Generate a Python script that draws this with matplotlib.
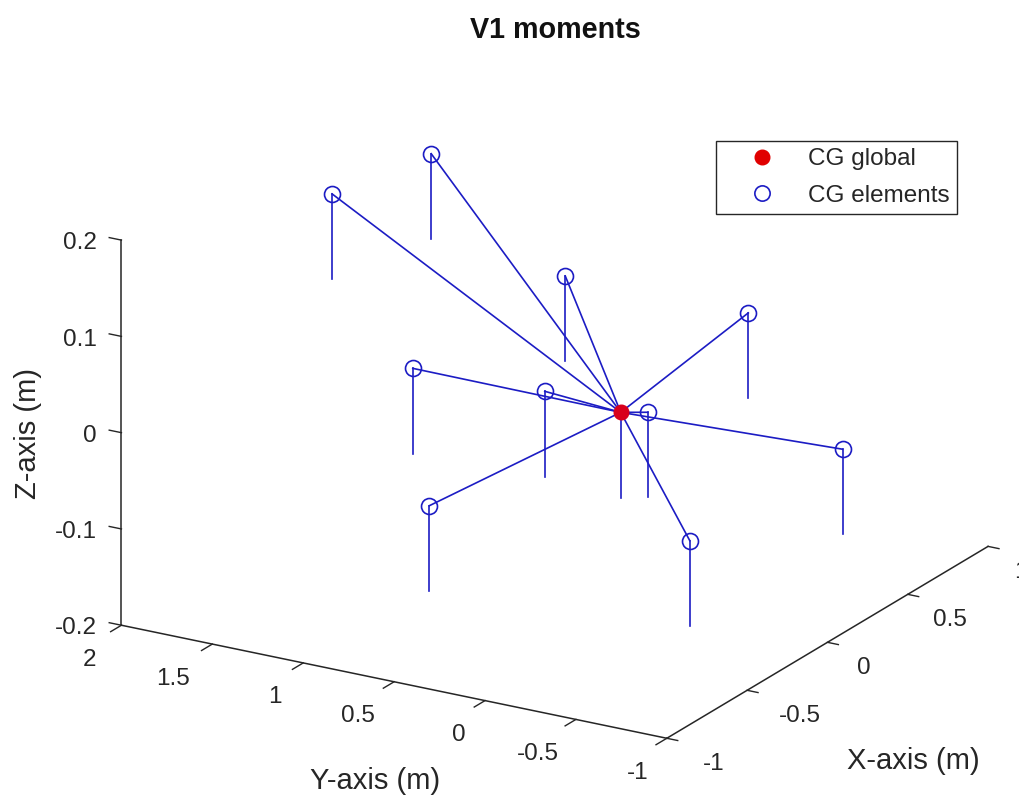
import matplotlib
matplotlib.use("Agg")
import matplotlib.pyplot as plt
from matplotlib.lines import Line2D
from matplotlib.transforms import ScaledTranslation

plt.rcParams['font.family'] = ['Liberation Sans', 'DejaVu Sans']

# CG of the global assembly
cg_x = -0.042
cg_y = 0.10
cg_z = 0.0

# CG of the elements
el_x = [0.068, 0.538, 0.552, -0.035, -0.001, 0.932, 0.103, 0.002, -0.85, -0.923]
el_y = [1.785, 1.655, 0.930, 1.250, 0.554, 0.259, -0.992, -0.01, -0.994, 0.375]
el_z = [0.15, 0.15, 0.05, 0.0, 0.0, 0.0, -0.01, 0.0, -0.01, -0.02]

# moment stems
moment = -0.0885

x_ticks = [-1, -0.5, 0, 0.5, 1]
y_ticks = [-1, -0.5, 0, 0.5, 1, 1.5, 2]
z_ticks = [-0.2, -0.1, 0, 0.1, 0.2]
x_labels = ['-1', '-0.5', '0', '0.5', '1']
y_labels = ['-1', '-0.5', '0', '0.5', '1', '1.5', '2']
z_labels = ['-0.2', '-0.1', '0', '0.1', '0.2']

BLUE = '#1c1cc4'
DARK = '#262626'

fig = plt.figure(figsize=(10.19, 7.95), dpi=100)
ax = fig.add_axes([0.0319 + 2.0 / 1019, -0.0132 + 4 / 795, 1, 1], projection='3d', proj_type='ortho')
ax.view_init(elev=20.6, azim=210.5)
ax.set_box_aspect((1, 1, 0.65), zoom=1.203)

for ex, ey, ez in zip(el_x, el_y, el_z):
    ax.plot([ex, cg_x], [ey, cg_y], [ez, cg_z], color=BLUE, lw=1.2)
    ax.plot([ex, ex], [ey, ey], [ez, ez + moment], color=BLUE, lw=1.2)
ax.plot([cg_x, cg_x], [cg_y, cg_y], [cg_z, cg_z + moment], color=BLUE, lw=1.2)
ax.plot(el_x, el_y, el_z, ls='none', marker='o', ms=11.5, mfc='none', mec=BLUE, mew=1.2)
ax.plot([cg_x], [cg_y], [cg_z], ls='none', marker='o', ms=10.5, color='#d8001c')

ax.set_xlim(-1, 1, view_margin=0)
ax.set_ylim(-1, 2, view_margin=0)
ax.set_zlim(-0.2, 0.2, view_margin=0)
ax.set_xticks(x_ticks, x_labels)
ax.set_yticks(y_ticks, y_labels)
ax.set_zticks(z_ticks, z_labels)
ax.grid(False)
for axis in (ax.xaxis, ax.yaxis, ax.zaxis):
    axis.pane.set_visible(False)
    axis.line.set_color(DARK)
    axis.line.set_linewidth(1.1)
    axis._axinfo['tick']['color'] = DARK
    axis._axinfo['tick']['linewidth'] = {True: 1.0, False: 1.0}
    axis.set_rotate_label(False)
ax.xaxis._axinfo['tick'].update(inward_factor=0.25, outward_factor=0.0)
ax.yaxis._axinfo['tick'].update(inward_factor=0.42, outward_factor=0.0)
# z ticks run along +y, as in the reference
ax.zaxis._get_tickdir = lambda pos: 1
ax.zaxis._axinfo['tick'].update(inward_factor=0.0, outward_factor=0.28)

ax.tick_params(labelsize=17.5, colors=DARK)
ax.set_xlabel('X-axis (m)', fontsize=21, color=DARK, rotation=0, labelpad=20)
ax.set_ylabel('Y-axis (m)', fontsize=21, color=DARK, rotation=0, labelpad=20)
ax.set_zlabel('Z-axis (m)', fontsize=21, color=DARK, rotation=90, labelpad=20)


def pixel_offset(dx, dy):
    return ax.transData + ScaledTranslation(dx / 100, -dy / 100, fig.dpi_scale_trans)


def place_tick_labels(axis, dxs, dy, ha):
    """Pin tick labels at a fixed pixel offset from mplot3d's own position."""
    axis.set_tick_params(pad=0)
    for tick, dx in zip(axis.get_major_ticks(), dxs):
        tick.label1.get_transform = lambda a=dx, b=dy: pixel_offset(a, b)
        tick.label1.set_ha(ha)
        tick.label1.set_va('center')


def place_axis_label(axis, dx, dy):
    axis.label.get_transform = lambda a=dx, b=dy: pixel_offset(a, b)


place_tick_labels(ax.xaxis, [21.5, 17.5, 14.5, 10.5, 11], 12, 'left')
place_tick_labels(ax.yaxis, [-9.5, -8.5, -10.5, -10.5, -12.5, -13.5, -16.5], 19, 'right')
place_tick_labels(ax.zaxis, [-1.5] * 5, 1, 'right')
place_axis_label(ax.xaxis, 11, 50)
place_axis_label(ax.yaxis, 25.5, 20)
place_axis_label(ax.zaxis, 26, -10)

fig.text(555 / 1019, 1 - 30 / 795, 'V1 moments', fontsize=20.7, fontweight='bold',
         color='#111111', ha='center', va='center')

handles = [
    Line2D([], [], ls='none', marker='o', ms=10.5, color='#e00000'),
    Line2D([], [], ls='none', marker='o', ms=11, mfc='none', mec=BLUE, mew=1.2),
]
leg = fig.legend(handles, ['CG global', 'CG elements'],
                 loc='center', bbox_to_anchor=(836.5 / 1019, 1 - 177.5 / 795),
                 fontsize=17.5, frameon=True, fancybox=False, framealpha=1,
                 edgecolor=DARK, labelcolor=DARK, borderpad=0.3, labelspacing=0.6,
                 handletextpad=0.34, handlelength=3.18, borderaxespad=0)
leg.get_frame().set_linewidth(1.0)

fig.savefig('out.png', dpi=100)
